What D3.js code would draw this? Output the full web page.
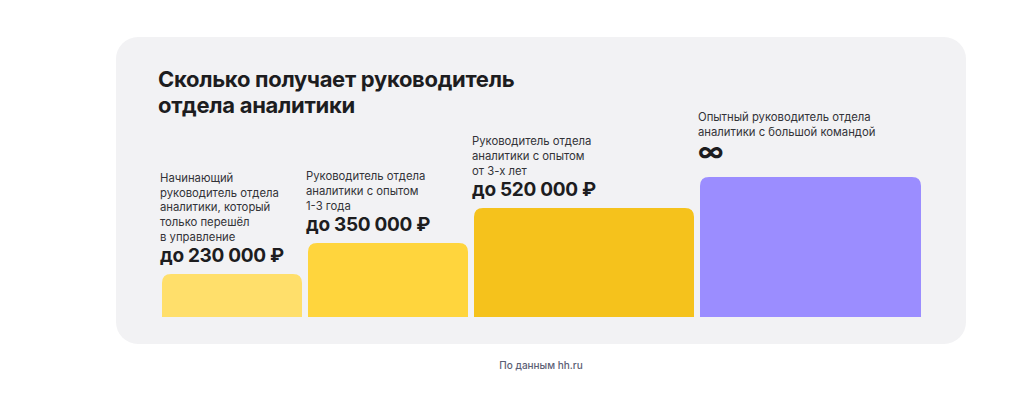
<!DOCTYPE html><html><head><meta charset="utf-8"><script src="https://cdn.jsdelivr.net/npm/d3@7"></script>
<style>body{margin:0;background:#fff;font-family:Inter,"Noto Sans",sans-serif}</style></head><body><svg id="c" width="1024" height="400"></svg>
<script>
const categories=[["Начинающий","руководитель отдела","аналитики, который","только перешёл","в управление"],["Руководитель отдела","аналитики с опытом","1-3 года"],["Руководитель отдела","аналитики с опытом","от 3-х лет"],["Опытный руководитель отдела","аналитики с большой командой"]];
const valueLabels=["до 230 000 ₽","до 350 000 ₽","до 520 000 ₽","∞"];
const barLevels=[43,74,109,140];
const barWeights=[140,160,220,221];
const colors=["#ffdf6b","#ffd53d","#f5c21c","#9b8dff"];
const svg=d3.select("#c");
svg.append("rect").attr("x",116).attr("y",37).attr("width",850).attr("height",307).attr("rx",22).attr("fill","#f2f2f4");
const t=svg.append("text").attr("x",158).attr("font-size",22).attr("font-weight",700).attr("fill","#1d1d1f").attr("letter-spacing",-0.3);
t.append("tspan").attr("x",158).attr("y",87).text("Сколько получает руководитель");
t.append("tspan").attr("x",158).attr("y",113).text("отдела аналитики");
const gap=6,x0=162,x1=921;
const total=d3.sum(barWeights),avail=x1-x0-gap*(barWeights.length-1);
const w=d3.scaleLinear().domain([0,total]).range([0,avail]);
const y=d3.scaleLinear().domain([0,140]).range([317,177]);
let cx=x0;
barWeights.forEach((bw,i)=>{
 const bx=cx,bwid=w(bw),top=y(barLevels[i]),r=9,b=y(0);cx+=bwid+gap;
 svg.append("path").attr("fill",colors[i]).attr("d",`M${bx},${b}V${top+r}Q${bx},${top} ${bx+r},${top}H${bx+bwid-r}Q${bx+bwid},${top} ${bx+bwid},${top+r}V${b}Z`);
 const inf=i===3;
 const vy=top-(inf?16:12);
 svg.append("text").attr("x",bx-2).attr("y",vy).attr("font-size",inf?26:19).attr("font-weight",700).attr("fill","#1d1d1f").attr("letter-spacing",-0.3).text(valueLabels[i]);
 const lines=categories[i];const lastBase=vy-(inf?25:21);
 lines.forEach((l,j)=>svg.append("text").attr("x",bx-2).attr("y",lastBase-(lines.length-1-j)*14.8).attr("font-size",11.3).attr("fill","#333338").text(l));
});
svg.append("text").attr("x",541).attr("y",369).attr("text-anchor","middle").attr("font-size",10).attr("font-weight",500).attr("fill","#5b6075").text("По данным hh.ru");
</script></body></html>
